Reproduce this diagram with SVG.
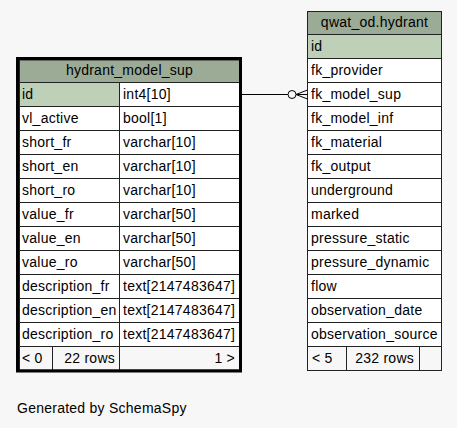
<svg xmlns="http://www.w3.org/2000/svg" width="457" height="428" viewBox="0 0 457 428">
<style>
text{font-family:"Liberation Sans",Arial,sans-serif;font-size:14px;letter-spacing:0.25px;fill:#000}
.hd{fill:#9bab96}
.pk{fill:#bed1b8}
.rw{fill:#ffffff}
.ft{fill:#f7f7f7}
.cell{stroke:#222;stroke-width:1}
.mid{text-anchor:middle}
.end{text-anchor:end}
.conn{stroke:#000;stroke-width:1;fill:none}
</style>
<rect x="0" y="0" width="457" height="428" fill="#f7f7f7"/>
<g id="connectors">
<line class="conn" x1="242" y1="94.5" x2="288" y2="94.5"/>
<circle class="conn" cx="292" cy="94.5" r="4"/>
<path class="conn" d="M296,94.5 L307.5,90 M296,94.5 L307.5,94.5 M296,94.5 L307.5,99"/>
</g>
<g id="hydrant_model_sup">
<rect class="hd cell" x="19.5" y="60" width="220" height="22.5"/>
<rect class="pk cell" x="19.5" y="82.5" width="100" height="24"/>
<rect class="rw cell" x="119.5" y="82.5" width="120" height="24"/>
<g class="cell">
<rect class="rw" x="19.5" y="106.5" width="100" height="24"/><rect class="rw" x="119.5" y="106.5" width="120" height="24"/>
<rect class="rw" x="19.5" y="130.5" width="100" height="24"/><rect class="rw" x="119.5" y="130.5" width="120" height="24"/>
<rect class="rw" x="19.5" y="154.5" width="100" height="24"/><rect class="rw" x="119.5" y="154.5" width="120" height="24"/>
<rect class="rw" x="19.5" y="178.5" width="100" height="24"/><rect class="rw" x="119.5" y="178.5" width="120" height="24"/>
<rect class="rw" x="19.5" y="202.5" width="100" height="24"/><rect class="rw" x="119.5" y="202.5" width="120" height="24"/>
<rect class="rw" x="19.5" y="226.5" width="100" height="24"/><rect class="rw" x="119.5" y="226.5" width="120" height="24"/>
<rect class="rw" x="19.5" y="250.5" width="100" height="24"/><rect class="rw" x="119.5" y="250.5" width="120" height="24"/>
<rect class="rw" x="19.5" y="274.5" width="100" height="24"/><rect class="rw" x="119.5" y="274.5" width="120" height="24"/>
<rect class="rw" x="19.5" y="298.5" width="100" height="24"/><rect class="rw" x="119.5" y="298.5" width="120" height="24"/>
<rect class="rw" x="19.5" y="322.5" width="100" height="24"/><rect class="rw" x="119.5" y="322.5" width="120" height="24"/>
<rect class="ft" x="19.5" y="346.5" width="33" height="23.5"/><rect class="ft" x="52.5" y="346.5" width="67" height="23.5"/><rect class="ft" x="119.5" y="346.5" width="120" height="23.5"/>
</g>
<rect x="17.5" y="58.5" width="223" height="312.5" fill="none" stroke="#000" stroke-width="3"/>
<text class="mid" x="129.5" y="75">hydrant_model_sup</text>
<text x="22" y="99">id</text><text x="123" y="99">int4[10]</text>
<text x="22" y="123">vl_active</text><text x="123" y="123">bool[1]</text>
<text x="22" y="147">short_fr</text><text x="123" y="147">varchar[10]</text>
<text x="22" y="171">short_en</text><text x="123" y="171">varchar[10]</text>
<text x="22" y="195">short_ro</text><text x="123" y="195">varchar[10]</text>
<text x="22" y="219">value_fr</text><text x="123" y="219">varchar[50]</text>
<text x="22" y="243">value_en</text><text x="123" y="243">varchar[50]</text>
<text x="22" y="267">value_ro</text><text x="123" y="267">varchar[50]</text>
<text x="22" y="291">description_fr</text><text x="123" y="291">text[2147483647]</text>
<text x="22" y="315">description_en</text><text x="123" y="315">text[2147483647]</text>
<text x="22" y="339">description_ro</text><text x="123" y="339">text[2147483647]</text>
<text x="22" y="363">&lt; 0</text><text class="end" x="115" y="363">22 rows</text><text class="end" x="235" y="363">1 &gt;</text>
</g>
<g id="qwat_od.hydrant">
<g class="cell">
<rect class="hd" x="307.5" y="11.5" width="134" height="23"/>
<rect class="pk" x="307.5" y="34.5" width="134" height="24"/>
<rect class="rw" x="307.5" y="58.5" width="134" height="24"/>
<rect class="rw" x="307.5" y="82.5" width="134" height="24"/>
<rect class="rw" x="307.5" y="106.5" width="134" height="24"/>
<rect class="rw" x="307.5" y="130.5" width="134" height="24"/>
<rect class="rw" x="307.5" y="154.5" width="134" height="24"/>
<rect class="rw" x="307.5" y="178.5" width="134" height="24"/>
<rect class="rw" x="307.5" y="202.5" width="134" height="24"/>
<rect class="rw" x="307.5" y="226.5" width="134" height="24"/>
<rect class="rw" x="307.5" y="250.5" width="134" height="24"/>
<rect class="rw" x="307.5" y="274.5" width="134" height="24"/>
<rect class="rw" x="307.5" y="298.5" width="134" height="24"/>
<rect class="rw" x="307.5" y="322.5" width="134" height="24"/>
<rect class="ft" x="307.5" y="346.5" width="39" height="24"/><rect class="ft" x="346.5" y="346.5" width="73" height="24"/><rect class="ft" x="419.5" y="346.5" width="22" height="24"/>
</g>
<text class="mid" x="374.5" y="27">qwat_od.hydrant</text>
<text x="311" y="51">id</text>
<text x="311" y="75">fk_provider</text>
<text x="311" y="99">fk_model_sup</text>
<text x="311" y="123">fk_model_inf</text>
<text x="311" y="147">fk_material</text>
<text x="311" y="171">fk_output</text>
<text x="311" y="195">underground</text>
<text x="311" y="219">marked</text>
<text x="311" y="243">pressure_static</text>
<text x="311" y="267">pressure_dynamic</text>
<text x="311" y="291">flow</text>
<text x="311" y="315">observation_date</text>
<text x="311" y="339">observation_source</text>
<text x="312" y="363">&lt; 5</text><text class="end" x="414" y="363">232 rows</text>
</g>
<text x="17" y="413">Generated by SchemaSpy</text>
</svg>
